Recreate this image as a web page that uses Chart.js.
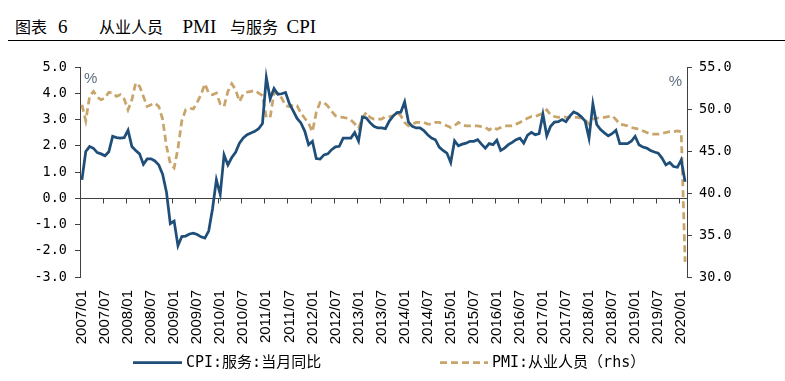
<!DOCTYPE html>
<html>
<head>
<meta charset="utf-8">
<script src="https://cdn.jsdelivr.net/npm/chart.js@4/dist/chart.umd.min.js"></script>
<style>
html,body{margin:0;padding:0;background:#fff;}
#wrap{position:relative;width:785px;height:381px;overflow:hidden;background:#fff;}
#c{position:absolute;left:0;top:0;}
.cj{position:absolute;font-family:"Noto Sans CJK SC",sans-serif;font-size:16px;line-height:16px;color:#000;white-space:nowrap;top:17.5px;}
.lt{position:absolute;font-family:"Liberation Serif",serif;font-size:19px;line-height:19px;color:#000;white-space:nowrap;top:16.6px;}
#rule{position:absolute;left:8px;top:39.5px;width:777px;height:1.5px;background:#000;}
</style>
</head>
<body>
<div id="wrap">
  <span class="cj" style="left:15px">图表</span><span class="lt" style="left:58px">6</span>
  <span class="cj" style="left:99px">从业人员</span><span class="lt" style="left:182.5px">PMI</span>
  <span class="cj" style="left:230px">与服务</span><span class="lt" style="left:286.5px">CPI</span>
  <div id="rule"></div>
  <canvas id="c" width="785" height="381"></canvas>
</div>
<script>
// ---- categories (monthly, 2007/01 - 2020/02) ----
const startYear = 2007, endYear = 2020, endMonth = 2;
const categories = [];
for (let y = startYear; y <= endYear; y++) {
  for (let m = 1; m <= 12; m++) {
    if (y === endYear && m > endMonth) break;
    categories.push(y + '/' + String(m).padStart(2, '0'));
  }
}
const tickLabels = ['2007/01','2007/07','2008/01','2008/07','2009/01','2009/07','2010/01','2010/07',
  '2011/01','2011/07','2012/01','2012/07','2013/01','2013/07','2014/01','2014/07','2015/01','2015/07',
  '2016/01','2016/07','2017/01','2017/07','2018/01','2018/07','2019/01','2019/07','2020/01'];

// ---- CPI: services, YoY % (left axis) ----
const cpi2007 = [0.7,1.78,1.97,1.9,1.74,1.69,1.62,1.77,2.36,2.31,2.29,2.31];
const cpi2008 = [2.59,1.97,1.82,1.69,1.29,1.5,1.5,1.42,1.27,0.92,0.24,-0.97];
const cpi2009 = [-0.87,-1.81,-1.46,-1.44,-1.36,-1.33,-1.38,-1.47,-1.52,-1.25,-0.4,0.7];
const cpi2010 = [0.15,1.65,1.27,1.55,1.75,2.1,2.3,2.42,2.49,2.55,2.65,2.85];
const cpi2011 = [4.6,3.79,4.18,3.96,3.98,4.03,3.6,3.33,3.04,2.87,2.56,2.04];
const cpi2012 = [2.17,1.51,1.49,1.65,1.69,1.85,1.96,1.98,2.29,2.29,2.29,2.5];
const cpi2013 = [2.18,3.1,3.06,2.88,2.74,2.68,2.68,2.65,2.94,3.13,3.26,3.28];
const cpi2014 = [3.67,2.9,2.74,2.68,2.68,2.58,2.42,2.29,2.23,1.95,1.82,1.72];
const cpi2015 = [1.36,2.19,2.0,2.06,2.1,2.17,2.17,2.23,2.06,1.91,2.08,2.04];
const cpi2016 = [2.21,1.82,1.91,2.04,2.13,2.23,2.29,2.1,2.4,2.51,2.42,2.46];
const cpi2017 = [3.2,2.38,2.74,2.9,2.92,3.0,2.92,3.13,3.29,3.22,3.1,2.94];
const cpi2018 = [2.29,3.6,2.81,2.62,2.49,2.38,2.46,2.59,2.08,2.08,2.08,2.17];
const cpi2019 = [2.36,2.04,1.95,1.91,1.82,1.76,1.72,1.53,1.27,1.36,1.21,1.18];
const cpi2020 = [1.46,0.63];
const cpiService = [].concat(cpi2007,cpi2008,cpi2009,cpi2010,cpi2011,cpi2012,cpi2013,
  cpi2014,cpi2015,cpi2016,cpi2017,cpi2018,cpi2019,cpi2020);

// ---- PMI: employment (right axis) ----
const pmi2007 = [50.5,48.6,51.5,52.1,51.4,51.1,51.3,52.0,51.9,51.5,51.7,51.2];
const pmi2008 = [49.9,51.1,53.1,52.7,51.5,50.3,50.5,50.7,50.3,48.8,45.6,43.5];
const pmi2009 = [43.0,45.3,48.6,49.9,50.1,50.0,50.8,51.7,53.0,51.9,51.7,51.9];
const pmi2010 = [50.6,50.3,52.1,53.0,52.3,50.9,51.8,52.0,52.1,52.2,51.9,51.6];
const pmi2011 = [49.0,49.0,51.9,51.9,51.3,50.4,50.3,50.5,50.4,49.5,48.9,48.3];
const pmi2012 = [47.3,49.6,50.8,50.8,50.35,49.75,49.2,49.05,49.0,48.9,48.7,48.25];
const pmi2013 = [47.7,48.9,49.6,49.0,48.8,48.8,48.8,49.1,49.1,49.2,49.6,49.2];
const pmi2014 = [48.4,48.0,48.2,48.4,48.4,48.4,48.2,48.2,48.4,48.4,48.2,48.0];
const pmi2015 = [47.8,48.0,48.4,48.1,48.0,48.0,48.0,48.0,47.9,47.8,47.5,47.8];
const pmi2016 = [47.6,47.8,48.0,48.0,48.0,48.2,48.4,48.7,48.9,49.1,49.1,49.3];
const pmi2017 = [49.5,49.9,49.3,49.1,49.0,49.1,49.0,49.0,49.0,49.0,48.9,48.7];
const pmi2018 = [48.2,48.8,48.9,49.0,49.0,49.1,49.2,48.75,48.2,48.1,48.0,47.8];
const pmi2019 = [47.7,47.6,47.4,47.2,47.0,47.0,47.0,47.1,47.2,47.3,47.3,47.4];
const pmi2020 = [47.3,31.8];
const pmiEmployment = [].concat(pmi2007,pmi2008,pmi2009,pmi2010,pmi2011,pmi2012,pmi2013,
  pmi2014,pmi2015,pmi2016,pmi2017,pmi2018,pmi2019,pmi2020);

const seriesNames = ['CPI:服务:当月同比', 'PMI:从业人员（rhs）'];
const leftTicks = {min: -3, max: 5, step: 1};
const rightTicks = {min: 30, max: 55, step: 5};

const AXIS = '#404040';
const monoFont = "'DejaVu Sans Mono', 'Noto Sans CJK SC', monospace";

// x axis drawn through zero of the left scale, with 6-month tick marks
const zeroAxis = {
  id: 'zeroAxis',
  beforeDatasetsDraw(chart) {
    const {ctx, chartArea, scales} = chart;
    const x = scales.x, y = scales.y;
    const y0 = Math.round(y.getPixelForValue(0)) + 0.5;
    const half = (x.getPixelForValue(1) - x.getPixelForValue(0)) / 2;
    ctx.save();
    ctx.strokeStyle = AXIS;
    ctx.lineWidth = 1;
    ctx.beginPath();
    ctx.moveTo(chartArea.left, y0);
    ctx.lineTo(chartArea.right, y0);
    categories.forEach((c, i) => {
      if (tickLabels.includes(c)) {
        const px = Math.round(x.getPixelForValue(i) - half) + 0.5;
        ctx.moveTo(px, y0);
        ctx.lineTo(px, y0 + 5);
      }
    });
    ctx.stroke();
    ctx.restore();
  }
};

// unit marks and legend
const decorations = {
  id: 'decorations',
  afterDraw(chart) {
    const {ctx, chartArea} = chart;
    ctx.save();
    ctx.fillStyle = '#5f6e7e';
    ctx.font = "15px 'Liberation Sans', sans-serif";
    ctx.textBaseline = 'middle';
    ctx.textAlign = 'left';
    ctx.fillText('%', chartArea.left + 4, chartArea.top + 12);
    ctx.textAlign = 'right';
    ctx.fillText('%', chartArea.right - 5, chartArea.top + 15);

    const items = [
      {ds: chart.data.datasets[0], x0: 133, x1: 182, tx: 186},
      {ds: chart.data.datasets[1], x0: 440, x1: 488, tx: 492}
    ];
    const ly = 362.5;
    items.forEach(it => {
      ctx.strokeStyle = it.ds.borderColor;
      ctx.lineWidth = it.ds.borderWidth;
      ctx.setLineDash(it.ds.borderDash || []);
      ctx.beginPath();
      ctx.moveTo(it.x0, ly);
      ctx.lineTo(it.x1, ly);
      ctx.stroke();
      ctx.setLineDash([]);
      ctx.fillStyle = '#000';
      ctx.font = '15px ' + monoFont;
      ctx.textAlign = 'left';
      ctx.textBaseline = 'middle';
      ctx.fillText(it.ds.label, it.tx, ly + 0.5);
    });
    ctx.restore();
  }
};

new Chart(document.getElementById('c'), {
  type: 'line',
  data: {
    labels: categories,
    datasets: [
      {
        label: seriesNames[0],
        data: cpiService,
        yAxisID: 'y',
        borderColor: '#1f4e79',
        borderWidth: 2.75,
        pointRadius: 0,
        tension: 0,
        fill: false
      },
      {
        label: seriesNames[1],
        data: pmiEmployment,
        yAxisID: 'y1',
        borderColor: '#c9a46b',
        borderWidth: 2.75,
        borderDash: [7, 4],
        pointRadius: 0,
        tension: 0,
        fill: false
      }
    ]
  },
  options: {
    responsive: false,
    animation: false,
    devicePixelRatio: 1,
    layout: {padding: {top: 67, left: 0, right: 0, bottom: 0}},
    plugins: {legend: {display: false}, tooltip: {enabled: false}},
    scales: {
      x: {
        type: 'category',
        offset: true,
        afterFit(s) { s.height = 104; },
        grid: {display: false, drawTicks: false},
        border: {display: false},
        ticks: {
          autoSkip: false,
          minRotation: 90,
          maxRotation: 90,
          padding: 13,
          color: '#000',
          font: {family: "'Liberation Sans', Arial, sans-serif", size: 15},
          callback(v, i) { const l = categories[i]; return tickLabels.includes(l) ? l : null; }
        }
      },
      y: {
        position: 'left',
        min: leftTicks.min,
        max: leftTicks.max,
        afterFit(s) { s.width = 80; },
        border: {display: true, color: AXIS, width: 1},
        grid: {drawOnChartArea: false, drawTicks: true, tickLength: 5, color: AXIS},
        ticks: {
          stepSize: leftTicks.step,
          padding: 8,
          color: '#000',
          font: {family: monoFont, size: 13.5},
          callback: v => Number(v).toFixed(1)
        }
      },
      y1: {
        position: 'right',
        min: rightTicks.min,
        max: rightTicks.max,
        afterFit(s) { s.width = 98; },
        border: {display: true, color: AXIS, width: 1},
        grid: {drawOnChartArea: false, drawTicks: true, tickLength: 5, color: AXIS},
        ticks: {
          stepSize: rightTicks.step,
          padding: 7,
          color: '#000',
          font: {family: monoFont, size: 13.5},
          callback: v => Number(v).toFixed(1)
        }
      }
    }
  },
  plugins: [zeroAxis, decorations]
});
</script>
</body>
</html>
